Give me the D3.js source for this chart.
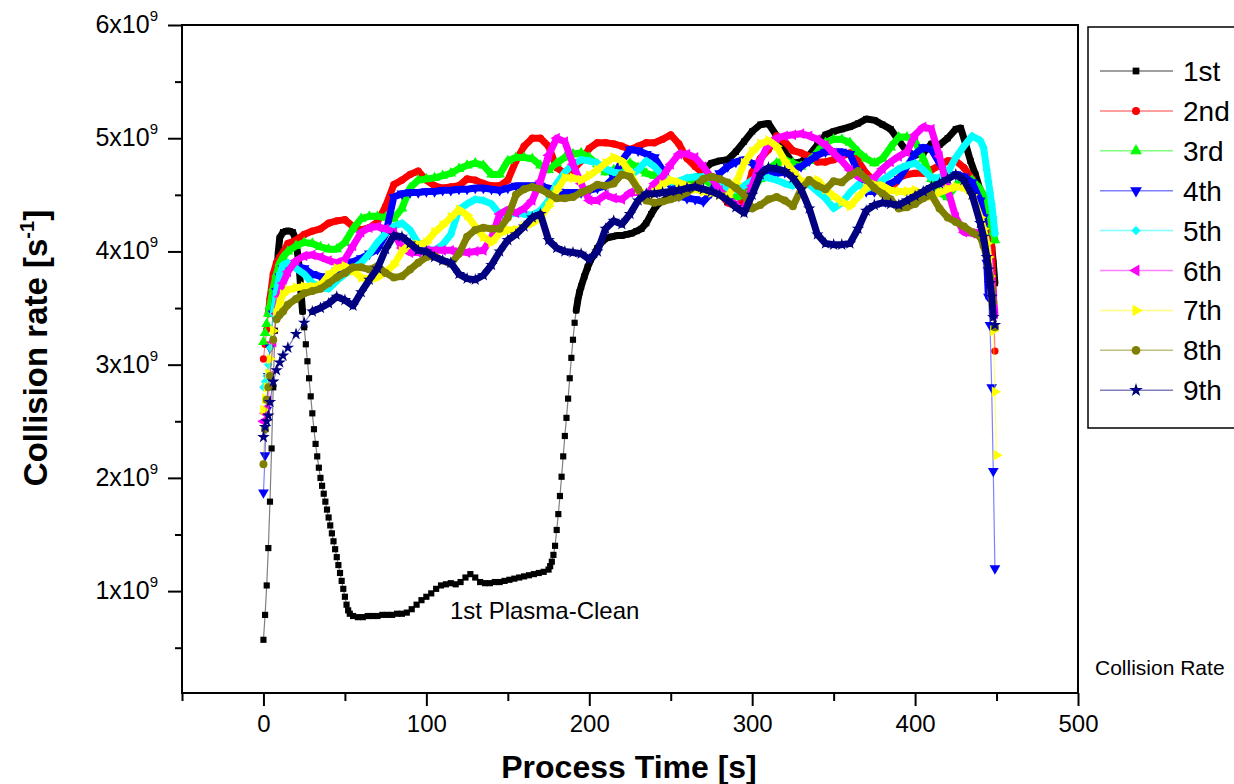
<!DOCTYPE html>
<html lang="en">
<head>
<meta charset="UTF-8">
<title>Collision Rate</title>
<script src="https://d3js.org/d3.v7.min.js"></script>
<style>
  body { margin: 0; background: #fff; }
  text { font-family: Arial, "Liberation Sans", sans-serif; fill: #000; }
</style>
</head>
<body>
<div id="chart"></div>
<script>
// process time [s] shared by the 2nd..9th runs
const times = [0, 1, 2, 3, 4, 6, 8, 10, 12, 15,
  20, 25, 30, 35, 40, 45, 50, 55, 60, 65,
  70, 75, 80, 85, 90, 95, 100, 105, 110, 115,
  120, 125, 130, 135, 140, 145, 150, 155, 160, 165,
  170, 175, 180, 185, 190, 195, 200, 205, 210, 215,
  220, 225, 230, 235, 240, 245, 250, 255, 260, 265,
  270, 275, 280, 285, 290, 295, 300, 305, 310, 315,
  320, 325, 330, 335, 340, 345, 350, 355, 360, 365,
  370, 375, 380, 385, 390, 395, 400, 405, 410, 415,
  420, 425, 430, 435, 440,
  442, 444, 445, 446, 447, 448, 449, 450];

// 1st run (plasma clean) has its own time base
const t1 = [0, 1, 2, 3, 4, 5, 6, 7, 8, 9, 10, 12, 14, 16, 18, 20,
  22, 23, 24, 25, 26, 27, 28, 29, 30, 31, 32, 33, 34, 35, 36, 37, 38, 39, 40,
  41, 42, 43, 44, 45, 46, 47, 48, 49, 50, 51, 52, 53, 55, 58, 61, 64, 67, 70,
  73, 76, 79, 82, 85, 88, 91, 94, 97, 100, 103, 106, 109, 112, 115, 118, 121,
  124, 127, 130, 133, 136, 139, 142, 145, 148, 151, 154, 157, 160, 163, 166,
  169, 172, 175, 176, 177, 178, 179, 180, 181, 182, 183, 184, 185, 186, 187,
  188, 189, 190, 191, 192, 193, 194, 195, 197, 199, 201, 203, 205, 208, 211,
  214, 217, 220, 223, 226, 229, 232, 235, 238, 241, 244, 247, 250, 255, 260,
  265, 270, 275, 280, 285, 290, 295, 300, 305, 310, 315, 320, 325, 330, 335,
  340, 345, 350, 355, 360, 365, 370, 375, 380, 385, 390, 395, 400, 405, 410,
  415, 420, 425, 428, 431, 434, 437, 440, 442, 444, 445, 446, 447, 448, 449];

// collision rate in units of 1e9 s^-1
const s1 = [0.57, 0.79, 1.05, 1.38, 1.79, 2.26, 2.8, 3.3, 3.7, 3.98, 4.12, 4.17, 4.18, 4.18, 4.17, 4.1,
  3.85, 3.65, 3.47, 3.33, 3.18, 3.03, 2.88, 2.72, 2.57, 2.43, 2.3, 2.19, 2.09, 2.0, 1.93, 1.86, 1.79, 1.72, 1.65,
  1.58, 1.51, 1.44, 1.37, 1.3, 1.23, 1.16, 1.09, 1.02, 0.95, 0.88, 0.83, 0.8, 0.78, 0.77, 0.77, 0.78, 0.78, 0.78,
  0.79, 0.79, 0.79, 0.8, 0.8, 0.81, 0.84, 0.88, 0.92, 0.95, 0.98, 1.02, 1.05, 1.06, 1.07, 1.06, 1.08,
  1.12, 1.15, 1.12, 1.08, 1.07, 1.07, 1.08, 1.08, 1.09, 1.1, 1.11, 1.12, 1.13, 1.14, 1.15,
  1.16, 1.17, 1.19, 1.22, 1.26, 1.32, 1.4, 1.54, 1.68, 1.84, 2.01, 2.19, 2.37, 2.53, 2.7,
  2.88, 3.06, 3.22, 3.37, 3.48, 3.57, 3.64, 3.69, 3.78, 3.86, 3.93, 3.97, 4.03, 4.09, 4.12,
  4.13, 4.14, 4.14, 4.15, 4.16, 4.18, 4.2, 4.25, 4.33, 4.4, 4.44, 4.46, 4.48, 4.5, 4.55,
  4.62, 4.72, 4.78, 4.8, 4.81, 4.88, 4.97, 5.06, 5.12, 5.13, 5.02, 4.88, 4.78, 4.79, 4.85,
  4.94, 5.03, 5.06, 5.08, 5.1, 5.13, 5.17, 5.16, 5.12, 5.08, 4.98, 4.88, 4.85, 4.87, 4.95,
  4.94, 5.0, 5.08, 5.09, 4.95, 4.8, 4.68, 4.54, 4.42, 4.31, 4.2, 4.12, 4.05, 3.9, 3.72];

const s2 = [3.05, 3.18, 3.31, 3.45, 3.58, 3.8, 3.9, 3.95, 3.99, 4.07,
  4.1, 4.15, 4.18, 4.2, 4.25, 4.27, 4.28, 4.22, 4.19, 4.21,
  4.26, 4.4, 4.59, 4.63, 4.68, 4.71, 4.63, 4.58, 4.56, 4.57,
  4.58, 4.64, 4.63, 4.6, 4.58, 4.58, 4.63, 4.8, 4.93, 5.0,
  5.0, 4.93, 4.74, 4.69, 4.72, 4.8, 4.91, 4.96, 4.96, 4.95,
  4.93, 4.9, 4.93, 4.96, 4.96, 4.99, 5.03, 4.95, 4.82, 4.75,
  4.69, 4.6, 4.52, 4.43, 4.4, 4.45, 4.7, 4.82, 4.9, 5.02,
  4.97, 4.89, 4.87, 4.84, 4.79, 4.79, 4.81, 4.84, 4.87, 4.8,
  4.69, 4.62, 4.57, 4.54, 4.65, 4.68, 4.69, 4.69, 4.72, 4.76,
  4.8, 4.8, 4.74, 4.64, 4.5,
  4.44, 4.3, 4.22, 4.14, 4.04, 3.6, 3.12, null];

const s3 = [3.2, 3.28, 3.36, 3.45, 3.52, 3.68, 3.8, 3.9, 3.95, 4.0,
  4.05, 4.08, 4.07, 4.04, 4.02, 4.02, 4.08, 4.2, 4.29, 4.31,
  4.31, 4.3, 4.29, 4.38, 4.56, 4.63, 4.64, 4.65, 4.67, 4.69,
  4.73, 4.76, 4.78, 4.76, 4.68, 4.68, 4.8, 4.83, 4.83, 4.82,
  4.76, 4.72, 4.78, 4.83, 4.86, 4.87, 4.83, 4.77, 4.7, 4.72,
  4.75, 4.78, 4.74, 4.69, 4.67, 4.65, 4.6, 4.58, 4.6, 4.62,
  4.63, 4.6, 4.54, 4.5, 4.48, 4.5, 4.54, 4.64, 4.73, 4.78,
  4.81, 4.78, 4.75, 4.8, 4.88, 4.96, 4.99, 4.99, 4.96, 4.88,
  4.82, 4.78, 4.82, 4.92, 5.01, 5.01, 4.97, 4.82, 4.64, 4.52,
  4.48, 4.58, 4.64, 4.63, 4.55,
  4.5, 4.42, 4.36, 4.3, 4.24, 4.17, 4.1, null];

const s4 = [1.87, 2.2, 2.6, 2.9, 3.15, 3.45, 3.65, 3.78, 3.85, 3.88,
  3.87, 3.85, 3.8, 3.78, 3.74, 3.83, 3.88, 3.91, 3.94, 3.98,
  4.02, 4.15, 4.48, 4.51, 4.52, 4.52, 4.53, 4.53, 4.54, 4.54,
  4.55, 4.55, 4.56, 4.56, 4.55, 4.54, 4.56, 4.58, 4.58, 4.58,
  4.58, 4.56, 4.53, 4.52, 4.52, 4.52, 4.54, 4.56, 4.58, 4.65,
  4.8, 4.9, 4.89, 4.86, 4.83, 4.72, 4.58, 4.49, 4.47, 4.46,
  4.44, 4.52, 4.69, 4.75, 4.79, 4.81, 4.78, 4.72, 4.7, 4.69,
  4.7, 4.72, 4.75, 4.8, 4.85, 4.88, 4.88, 4.88, 4.86, 4.7,
  4.53, 4.53, 4.56, 4.6, 4.64, 4.75, 4.86, 4.92, 4.9, 4.78,
  4.66, 4.68, 4.66, 4.61, 4.45,
  4.3, 3.9, 3.6, 3.35, 2.8, 2.06, 1.2, null];

const s5 = [2.8, 2.85, 2.9, 3.0, 3.15, 3.45, 3.65, 3.8, 3.88, 3.9,
  3.85, 3.8, 3.72, 3.68, 3.67, 3.74, 3.8, 3.85, 3.9, 3.98,
  4.08, 4.16, 4.22, 4.25, 4.19, 4.07, 4.02, 4.01, 4.06, 4.15,
  4.37, 4.42, 4.46, 4.45, 4.42, 4.33, 4.32, 4.34, 4.33, 4.32,
  4.36, 4.45, 4.6, 4.7, 4.77, 4.81, 4.8, 4.78, 4.73, 4.7,
  4.69, 4.67, 4.72, 4.8, 4.75, 4.67, 4.61, 4.62, 4.65, 4.66,
  4.66, 4.64, 4.6, 4.56, 4.54, 4.58, 4.63, 4.66, 4.65, 4.63,
  4.6, 4.58, 4.62, 4.59, 4.53, 4.47, 4.38, 4.43, 4.52, 4.59,
  4.55, 4.58, 4.63, 4.68, 4.73, 4.76, 4.78, 4.72, 4.65, 4.65,
  4.7, 4.83, 4.93, 5.02, 4.98,
  4.92, 4.72, 4.62, 4.52, 4.42, 4.3, 4.16, null];

const s6 = [2.5, 2.57, 2.62, 2.68, 2.9, 3.2, 3.45, 3.6, 3.72, 3.82,
  3.92, 3.96, 3.97, 3.95, 3.92, 3.9, 3.93, 4.05, 4.17, 4.21,
  4.22, 4.2, 4.17, 4.03, 3.99, 3.99, 4.01, 4.01, 4.01, 4.01,
  4.0, 3.99, 4.0, 4.01, 4.12, 4.33, 4.37, 4.34, 4.38, 4.45,
  4.62, 4.85, 5.0, 4.97, 4.77, 4.6, 4.45, 4.45, 4.5, 4.47,
  4.46, 4.52, 4.52, 4.48, 4.6, 4.66, 4.77, 4.86, 4.86, 4.83,
  4.75, 4.65, 4.54, 4.47, 4.41, 4.36, 4.58, 4.8, 4.95, 5.0,
  5.02, 5.03, 5.04, 5.02, 4.99, 4.94, 4.87, 4.8, 4.72, 4.66,
  4.63, 4.65, 4.73, 4.79, 4.84, 4.88, 5.03, 5.1, 5.08, 4.84,
  4.55, 4.3, 4.17, 4.16, 4.17,
  4.14, 4.08, 4.0, 3.9, 3.78, 3.62, 3.45, null];

const s7 = [2.6, 2.7, 2.8, 2.92, 3.05, 3.3, 3.45, 3.55, 3.62, 3.66,
  3.68, 3.69, 3.69, 3.7, 3.79, 3.85, 3.87, 3.83, 3.77, 3.75,
  3.77, 3.82, 3.88, 4.0, 4.07, 4.06, 4.08, 4.17, 4.23, 4.3,
  4.37, 4.32, 4.22, 4.13, 4.08, 4.16, 4.19, 4.19, 4.22, 4.25,
  4.3, 4.4, 4.54, 4.65, 4.65, 4.63, 4.67, 4.72, 4.78, 4.83,
  4.8, 4.7, 4.55, 4.46, 4.52, 4.59, 4.63, 4.61, 4.58, 4.55,
  4.53, 4.52, 4.5, 4.48, 4.6, 4.78, 4.88, 4.95, 4.98, 4.93,
  4.8, 4.71, 4.62, 4.62, 4.63, 4.55, 4.49, 4.44, 4.4, 4.48,
  4.56, 4.59, 4.58, 4.54, 4.53, 4.53, 4.54, 4.5, 4.49, 4.52,
  4.55, 4.57, 4.57, 4.5, 4.3,
  4.2, 4.07, 3.95, 3.78, 3.55, 3.3, 2.76, 2.2];

const s8 = [2.12, 2.43, 2.69, 2.8, 2.9, 3.22, 3.4, 3.44, 3.47, 3.53,
  3.58, 3.63, 3.65, 3.67, 3.72, 3.77, 3.81, 3.86, 3.86, 3.84,
  3.87, 3.81, 3.77, 3.78, 3.84, 3.9, 3.95, 3.96, 3.92, 3.89,
  3.98, 4.13, 4.19, 4.21, 4.2, 4.2, 4.3, 4.5, 4.55, 4.57,
  4.55, 4.51, 4.47, 4.47, 4.48, 4.52, 4.55, 4.59, 4.58, 4.6,
  4.68, 4.66, 4.55, 4.45, 4.43, 4.44, 4.46, 4.48, 4.52, 4.58,
  4.64, 4.66, 4.64, 4.61, 4.56, 4.5, 4.38, 4.41, 4.46, 4.48,
  4.45, 4.4, 4.55, 4.63, 4.58, 4.55, 4.62, 4.61, 4.67, 4.71,
  4.64, 4.56, 4.51, 4.46, 4.38, 4.39, 4.42, 4.47, 4.5, 4.38,
  4.3, 4.26, 4.22, 4.17, 4.13,
  4.05, 3.95, 3.87, 3.78, 3.67, 3.55, 3.33, null];

const s9 = [2.36, 2.45, 2.5, 2.55, 2.67, 2.85, 2.95, 3.02, 3.08, 3.15,
  3.27, 3.37, 3.47, 3.5, 3.54, 3.6, 3.57, 3.52, 3.64, 3.75,
  3.85, 4.02, 4.14, 4.13, 4.07, 4.01, 4.0, 3.95, 3.92, 3.9,
  3.8, 3.76, 3.75, 3.79, 3.88, 4.0, 4.1, 4.15, 4.22, 4.3,
  4.33, 4.1, 4.03, 4.0, 3.99, 3.98, 3.93, 4.0, 4.2, 4.27,
  4.24, 4.33, 4.45, 4.51, 4.51, 4.52, 4.53, 4.54, 4.56, 4.57,
  4.55, 4.53, 4.5, 4.45, 4.39, 4.34, 4.5, 4.68, 4.74, 4.73,
  4.71, 4.65, 4.55, 4.38, 4.15, 4.07, 4.06, 4.06, 4.07, 4.2,
  4.36, 4.41, 4.43, 4.42, 4.41, 4.45, 4.49, 4.53, 4.57, 4.6,
  4.64, 4.68, 4.63, 4.5, 4.25,
  4.13, 3.95, 3.84, 3.72, 3.6, 3.42, 3.35, null];

const seriesNames = ["1st", "2nd", "3rd", "4th", "5th", "6th", "7th", "8th", "9th"];
const seriesColors = ["#000000", "#ff0000", "#00ff00", "#0000ff", "#00ffff",
  "#ff00ff", "#ffff00", "#808000", "#000080"];

const xMajor = [0, 100, 200, 300, 400, 500];
const xMinor = [-50, 50, 150, 250, 350, 450];
const yMajor = [1, 2, 3, 4, 5, 6];
const yMinor = [0.5, 1.5, 2.5, 3.5, 4.5, 5.5];

// ---- layout ----
const W = 1234, H = 784;
const svg = d3.select("#chart").append("svg")
  .attr("width", W).attr("height", H)
  .style("display", "block");

const x = d3.scaleLinear().domain([-50, 500]).range([182, 1078]);
const y = d3.scaleLinear().domain([0.1, 6]).range([693, 25]);

// marker shapes, one per run
const markers = [
  { type: d3.symbolSquare, size: 38, rot: 0 },
  { type: d3.symbolCircle, size: 42, rot: 0 },
  { type: d3.symbolTriangle, size: 50, rot: 0 },
  { type: d3.symbolTriangle, size: 50, rot: 180 },
  { type: d3.symbolSquare, size: 36, rot: 45 },
  { type: d3.symbolTriangle, size: 50, rot: -90 },
  { type: d3.symbolTriangle, size: 50, rot: 90 },
  { type: d3.symbolCircle, size: 50, rot: 0 },
  { type: d3.symbolStar, size: 48, rot: 0 }
];

const allSeries = [
  t1.map((t, i) => ({ t: t, v: s1[i] })),
  ...[s2, s3, s4, s5, s6, s7, s8, s9].map(s => times.map((t, i) => ({ t: t, v: s[i] })))
];

// axes
const gx = svg.append("g").attr("transform", "translate(0,693)");
gx.call(d3.axisBottom(x).tickValues(xMajor).tickSize(13).tickSizeOuter(0).tickPadding(6));
gx.append("g").call(d3.axisBottom(x).tickValues(xMinor).tickSize(8).tickFormat(""));
gx.selectAll("path.domain").remove();
gx.selectAll("line").attr("stroke", "#000").attr("stroke-width", 2);
gx.selectAll(".tick text").attr("font-size", 24).attr("font-family", "Arial, 'Liberation Sans', sans-serif")
  .attr("y", 22).attr("dy", "0.72em");

const gy = svg.append("g").attr("transform", "translate(182,0)");
gy.call(d3.axisLeft(y).tickValues(yMajor).tickSize(14).tickFormat(""));
gy.append("g").call(d3.axisLeft(y).tickValues(yMinor).tickSize(7).tickFormat(""));
gy.selectAll("path.domain").remove();
gy.selectAll("line").attr("stroke", "#000").attr("stroke-width", 2);

// y tick labels like 6x10^9
const ylab = svg.append("g");
yMajor.forEach(v => {
  const t = ylab.append("text")
    .attr("x", 158).attr("y", y(v) + 8)
    .attr("text-anchor", "end")
    .attr("font-size", 25);
  t.append("tspan").text(v + "x10");
  t.append("tspan").attr("dy", -12).attr("font-size", 15).text("9");
});

// frame
svg.append("rect")
  .attr("x", 182).attr("y", 25)
  .attr("width", 1078 - 182).attr("height", 693 - 25)
  .attr("fill", "none").attr("stroke", "#000").attr("stroke-width", 2);

// series
const line = d3.line()
  .defined(d => d.v !== null)
  .x(d => x(d.t)).y(d => y(d.v));

// dense markers merge into a solid band on the plateau
const band = d3.line()
  .defined(d => d.v !== null && d.v >= 3.4)
  .x(d => x(d.t)).y(d => y(d.v));

const plot = svg.append("g");
allSeries.forEach((data, i) => {
  const g = plot.append("g");
  g.append("path")
    .datum(data)
    .attr("fill", "none")
    .attr("stroke", seriesColors[i])
    .attr("stroke-width", 7)
    .attr("stroke-linejoin", "round")
    .attr("stroke-linecap", "round")
    .attr("d", band);
  g.append("path")
    .datum(data)
    .attr("fill", "none")
    .attr("stroke", seriesColors[i])
    .attr("stroke-opacity", 0.5)
    .attr("stroke-width", 1.2)
    .attr("d", line);
  const m = markers[i];
  g.selectAll("path.mk")
    .data(data.filter(d => d.v !== null))
    .enter().append("path")
    .attr("class", "mk")
    .attr("d", d3.symbol().type(m.type).size(m.size))
    .attr("transform", d => `translate(${x(d.t)},${y(d.v)}) rotate(${m.rot})`)
    .attr("fill", seriesColors[i]);
});

// annotation
svg.append("text")
  .attr("x", 450).attr("y", 619)
  .attr("font-size", 24)
  .text("1st Plasma-Clean");

// axis titles
svg.append("text")
  .attr("x", 629).attr("y", 778)
  .attr("text-anchor", "middle")
  .attr("font-size", 32).attr("font-weight", "bold")
  .text("Process Time [s]");

const yt = svg.append("text")
  .attr("transform", "translate(47,348) rotate(-90)")
  .attr("text-anchor", "middle")
  .attr("font-size", 33).attr("font-weight", "bold");
yt.append("tspan").text("Collision rate [s");
yt.append("tspan").attr("dy", -13).attr("font-size", 20).text("-1");
yt.append("tspan").attr("dy", 13).text("]");

// legend
const lg = svg.append("g");
lg.append("rect")
  .attr("x", 1088).attr("y", 27)
  .attr("width", 170).attr("height", 401)
  .attr("fill", "#fff").attr("stroke", "#000").attr("stroke-width", 1.5);

seriesNames.forEach((name, i) => {
  const ly = 71 + i * 39.9;
  lg.append("line")
    .attr("x1", 1100).attr("x2", 1173)
    .attr("y1", ly).attr("y2", ly)
    .attr("stroke", seriesColors[i]).attr("stroke-opacity", 0.5).attr("stroke-width", 1.5);
  const m = markers[i];
  lg.append("path")
    .attr("d", d3.symbol().type(m.type).size(m.size * 1.2))
    .attr("transform", `translate(1136,${ly}) rotate(${m.rot})`)
    .attr("fill", seriesColors[i]);
  lg.append("text")
    .attr("x", 1183).attr("y", ly + 10)
    .attr("font-size", 28)
    .text(name);
});

svg.append("text")
  .attr("x", 1095).attr("y", 675)
  .attr("font-size", 21)
  .text("Collision Rate");
</script>
</body>
</html>
